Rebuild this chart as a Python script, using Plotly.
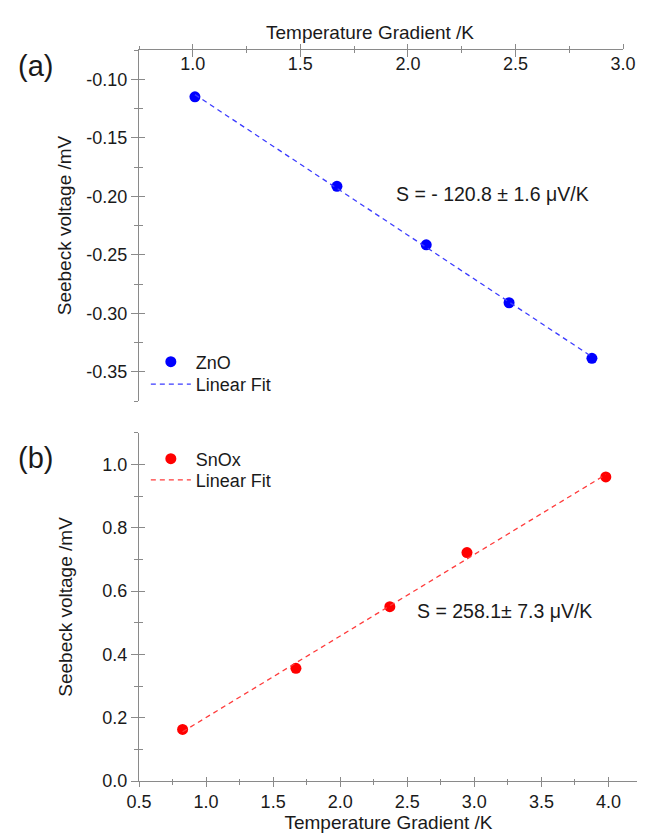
import numpy as np
import plotly.graph_objects as go

# ---- data ----
zno_dT = [1.01, 1.67, 2.085, 2.47, 2.855]            # K (top axis)
zno_V = [-0.115, -0.1915, -0.2415, -0.291, -0.3385]  # mV
snox_dT = [0.825, 1.67, 2.37, 2.945, 3.98]           # K (bottom axis)
snox_V = [0.163, 0.356, 0.551, 0.722, 0.961]         # mV

zno_yticks = [-0.35, -0.30, -0.25, -0.20, -0.15, -0.10]
zno_yticktext = ["-0.35", "-0.30", "-0.25", "-0.20", "-0.15", "-0.10"]

zno_label = "S = - 120.8 ± 1.6 μV/K"
snox_label = "S = 258.1± 7.3 μV/K"
x_title = "Temperature Gradient /K"
y_title = "Seebeck voltage /mV"

FONT = "Liberation Sans, Arial, sans-serif"
AXC = "#8a8a8a"
TXT = "#1a1a1a"


def fit_line(x, y):
    k, b = np.polyfit(x, y, 1)
    xs = np.array([min(x), max(x)])
    return xs, k * xs + b


fig = go.Figure()

# panel (a)
fig.add_trace(go.Scatter(x=zno_dT, y=zno_V, mode="markers", name="ZnO",
                         marker=dict(color="#0000ff", size=11),
                         xaxis="x", yaxis="y", legend="legend"))
fx, fy = fit_line(zno_dT, zno_V)
fig.add_trace(go.Scatter(x=fx, y=fy, mode="lines", name="Linear Fit",
                         line=dict(color="#3b3bff", width=1.3, dash="5px,4px"),
                         xaxis="x", yaxis="y", legend="legend3"))

# panel (b)
fig.add_trace(go.Scatter(x=snox_dT, y=snox_V, mode="markers", name="SnOx",
                         marker=dict(color="#ff0000", size=11),
                         xaxis="x2", yaxis="y2", legend="legend2"))
gx, gy = fit_line(snox_dT, snox_V)
fig.add_trace(go.Scatter(x=gx, y=gy, mode="lines", name="Linear Fit",
                         line=dict(color="#ff3b3b", width=1.3, dash="5px,4px"),
                         xaxis="x2", yaxis="y2", legend="legend4"))

# dummy traces so the overlay (inner-tick) axes render
fig.add_trace(go.Scatter(x=[None], y=[None], xaxis="x3", yaxis="y3", showlegend=False, hoverinfo="skip"))
fig.add_trace(go.Scatter(x=[None], y=[None], xaxis="x4", yaxis="y4", showlegend=False, hoverinfo="skip"))

tickfont = dict(family=FONT, size=18, color=TXT)
titlefont = dict(family=FONT, size=19, color=TXT)

common = dict(showline=True, linecolor=AXC, linewidth=1.2, showgrid=False,
              zeroline=False, tickcolor=AXC, tickwidth=1.2, tickfont=tickfont)
inner = dict(showline=False, showgrid=False, zeroline=False, showticklabels=False,
             tickcolor=AXC, tickwidth=1.2)

dom_a = [0.5198, 1.0]
dom_b = [0.0, 0.4761]
xdom_a = [0.0, 0.9706]
xr_a = [0.75, 3.001]
xr_b = [0.5, 4.22]
yr_a = [-0.375, -0.075]
yr_b = [0, 1.1]


def leg(y):
    return dict(x=0.0137, y=y, xanchor="left", yanchor="top",
                bgcolor="rgba(0,0,0,0)", itemwidth=40, tracegroupgap=0,
                font=dict(family=FONT, size=18, color=TXT))


fig.update_layout(
    width=645, height=835,
    margin=dict(l=131, r=3, t=42, b=62),
    paper_bgcolor="white", plot_bgcolor="white",
    font=dict(family=FONT, color=TXT),
    showlegend=True,
    xaxis=dict(**common, domain=xdom_a, anchor="y", side="top",
               range=xr_a, dtick=0.5, tick0=0, tickformat=".1f",
               ticks="outside", ticklen=5, ticklabelposition="inside",
               ticklabeloverflow="allow", ticklabelstandoff=8,
               minor=dict(ticks="outside", ticklen=3, dtick=0.25, tick0=0, tickcolor=AXC, tickwidth=1.2)),
    xaxis3=dict(**inner, overlaying="x", anchor="y", side="top", range=xr_a,
                dtick=0.5, tick0=0, ticks="inside", ticklen=7,
                minor=dict(ticks="inside", ticklen=3, dtick=0.25, tick0=0, tickcolor=AXC, tickwidth=1.2)),
    yaxis=dict(**common, domain=dom_a, anchor="x", range=yr_a,
               tickmode="array", tickvals=zno_yticks, ticktext=zno_yticktext,
               ticks="outside", ticklen=7, ticklabelstandoff=0,
               minor=dict(ticks="outside", ticklen=3.5, dtick=0.025, tick0=0, tickcolor=AXC, tickwidth=1.2),
               title=dict(text=y_title, font=titlefont, standoff=9)),
    yaxis3=dict(**inner, overlaying="y", anchor="x", side="left", range=yr_a,
                dtick=0.05, tick0=0, ticks="inside", ticklen=5.5,
                minor=dict(ticks="inside", ticklen=3.5, dtick=0.025, tick0=0, tickcolor=AXC, tickwidth=1.2)),
    xaxis2=dict(**common, domain=[0, 1], anchor="y2", side="bottom",
                range=xr_b, dtick=0.5, tick0=0, tickformat=".1f",
                ticks="outside", ticklen=4.5,
                minor=dict(ticks="outside", ticklen=2.5, dtick=0.25, tick0=0, tickcolor=AXC, tickwidth=1.2),
                title=dict(text=x_title, font=titlefont, standoff=2)),
    xaxis4=dict(**inner, overlaying="x2", anchor="y2", side="bottom", range=xr_b,
                dtick=0.5, tick0=0, ticks="inside", ticklen=4.5,
                minor=dict(ticks="inside", ticklen=2.5, dtick=0.25, tick0=0, tickcolor=AXC, tickwidth=1.2)),
    yaxis2=dict(**common, domain=dom_b, anchor="x2", range=yr_b,
                dtick=0.2, tick0=0, tickformat=".1f", ticks="outside", ticklen=7,
                ticklabelstandoff=0,
                minor=dict(ticks="outside", ticklen=3.5, dtick=0.1, tick0=0, tickcolor=AXC, tickwidth=1.2),
                title=dict(text=y_title, font=titlefont, standoff=24)),
    yaxis4=dict(**inner, overlaying="y2", anchor="x2", side="left", range=yr_b,
                dtick=0.2, tick0=0, ticks="inside", ticklen=5.5,
                minor=dict(ticks="inside", ticklen=3.5, dtick=0.1, tick0=0, tickcolor=AXC, tickwidth=1.2)),
    legend=leg(0.5985),
    legend3=leg(0.5677),
    legend2=leg(0.4658),
    legend4=leg(0.4367),
)

# top axis title (slightly left of centre, as in the reference)
fig.add_annotation(text=x_title, x=0.4638, y=1.0246, xref="paper", yref="paper",
                   xanchor="center", yanchor="middle", showarrow=False, font=titlefont)

fig.add_annotation(text=zno_label, x=1.933, y=-0.1977, xref="x", yref="y",
                   xanchor="left", yanchor="middle", showarrow=False,
                   font=dict(family=FONT, size=19.5, color=TXT))
fig.add_annotation(text=snox_label, x=2.56, y=0.538, xref="x2", yref="y2",
                   xanchor="left", yanchor="middle", showarrow=False,
                   font=dict(family=FONT, size=19.5, color=TXT))
fig.add_annotation(text="(a)", x=-0.2074, y=0.978, xref="paper", yref="paper",
                   xanchor="center", yanchor="middle", showarrow=False,
                   font=dict(family=FONT, size=29, color=TXT))
fig.add_annotation(text="(b)", x=-0.2074, y=0.4419, xref="paper", yref="paper",
                   xanchor="center", yanchor="middle", showarrow=False,
                   font=dict(family=FONT, size=29, color=TXT))

fig.write_html("out.html")
